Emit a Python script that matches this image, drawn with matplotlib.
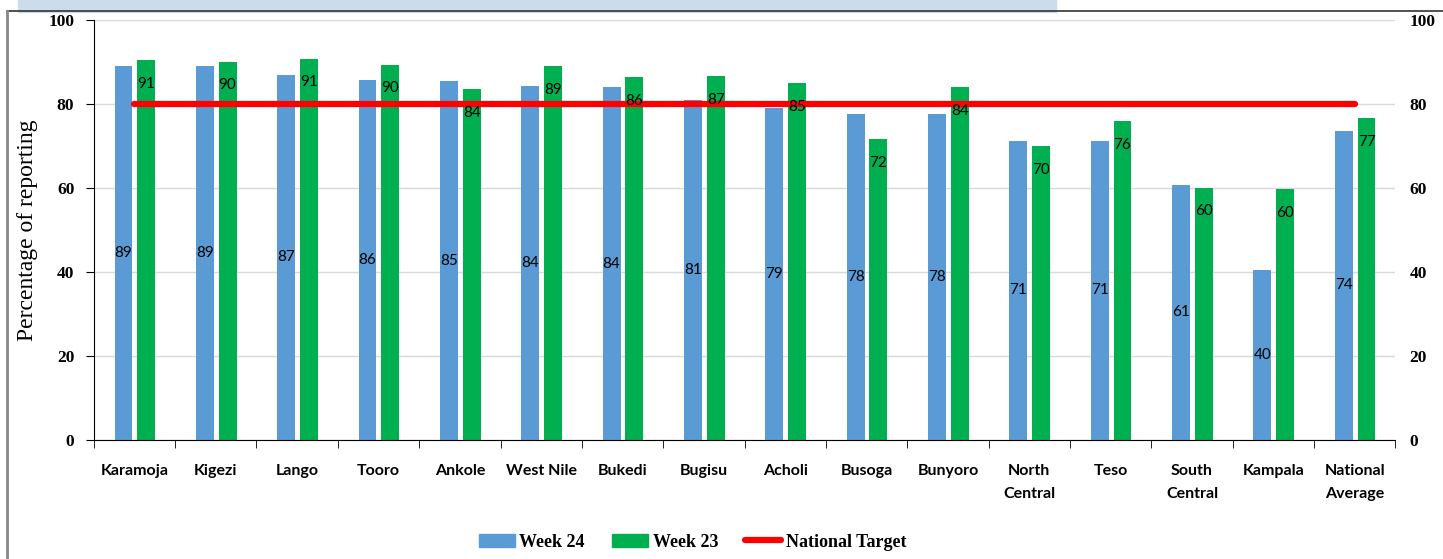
import matplotlib
matplotlib.use("Agg")
import matplotlib.pyplot as plt
import numpy as np
from matplotlib.patches import Rectangle
from matplotlib.lines import Line2D

regions = ["Karamoja", "Kigezi", "Lango", "Tooro", "Ankole", "West Nile", "Bukedi",
           "Bugisu", "Acholi", "Busoga", "Bunyoro", "North\nCentral", "Teso",
           "South\nCentral", "Kampala", "National\nAverage"]
week24 = [89, 89, 87, 86, 85, 84, 84, 81, 79, 78, 78, 71, 71, 61, 40, 74]
week23 = [91, 90, 91, 90, 84, 89, 86, 87, 85, 72, 84, 70, 76, 60, 60, 77]
week24_bar = [89.1, 89.0, 87.0, 85.8, 85.4, 84.4, 84.0, 81.0, 79.0, 77.7, 77.7, 71.2, 71.2, 60.8, 40.4, 73.6]
week23_bar = [90.5, 90.1, 90.8, 89.4, 83.6, 89.1, 86.4, 86.7, 85.0, 71.6, 84.0, 69.9, 76.0, 60.1, 59.7, 76.6]
target = 80

blue = "#5b9bd5"
green = "#00b050"
serif = ["Liberation Serif", "DejaVu Serif"]
sans = ["Lato", "DejaVu Sans"]

fig = plt.figure(figsize=(14.43, 5.59), dpi=100)
ax = fig.add_axes([0.065, 0.213, 0.902, 0.751])

x = np.arange(len(regions))
w = 0.22
ax.bar(x - 0.135, week24_bar, w, color=blue, zorder=2)
ax.bar(x + 0.145, week23_bar, w, color=green, zorder=2)
ax.plot(x, [target] * len(x), color="#ff0000", lw=4.5, solid_capstyle="round", zorder=3)

for i in range(len(x)):
    ax.text(x[i] - 0.135, week24_bar[i] / 2, str(week24[i]), ha="center", va="center",
            fontsize=11, family=sans, zorder=4)
    ax.annotate(str(week23[i]), (x[i] + 0.145, week23_bar[i]), xytext=(0, -12),
                textcoords="offset points", ha="center", va="top",
                fontsize=11, family=sans, zorder=4)

ax.set_xlim(-0.5, len(x) - 0.5)
ax.set_ylim(0, 100)
ax.set_yticks(range(0, 101, 20))
ax.yaxis.grid(True, color="#d9d9d9", lw=1)
ax.set_axisbelow(True)
ax.set_xticks(x)
ax.set_xticklabels(regions, fontsize=11.5, fontweight="bold", family=sans, linespacing=1.9)
ax.set_xticks(np.arange(-0.5, len(x)), minor=True)
ax.tick_params(axis="x", which="major", length=0, pad=17)
ax.tick_params(axis="x", which="minor", length=6, direction="out")
ax.tick_params(axis="y", length=6, direction="out", pad=8)
for lab in ax.get_yticklabels():
    lab.set_fontfamily(serif)
    lab.set_fontweight("bold")
    lab.set_fontsize(12.5)
ax.set_ylabel("Percentage of reporting", fontsize=17, family=serif)
ax.yaxis.set_label_coords(-0.043, 0.5)
for s in ["top", "right"]:
    ax.spines[s].set_visible(False)
ax.spines["left"].set_color("black")
ax.spines["bottom"].set_color("black")

ax2 = ax.twinx()
ax2.set_ylim(0, 100)
ax2.set_yticks(range(0, 101, 20))
for s in ["top", "right", "left", "bottom"]:
    ax2.spines[s].set_visible(False)
ax2.tick_params(axis="y", length=0, pad=10)
for lab in ax2.get_yticklabels():
    lab.set_fontfamily(serif)
    lab.set_fontweight("bold")
    lab.set_fontsize(12.5)

handles = [Rectangle((0, 0), 1, 1, color=blue), Rectangle((0, 0), 1, 1, color=green),
           Line2D([0], [0], color="#ff0000", lw=4.5, solid_capstyle="round")]
fig.legend(handles, ["Week 24", "Week 23", "National Target"], loc="center",
           bbox_to_anchor=(0.48, 0.03), ncol=3, frameon=False, handlelength=2.0,
           handleheight=0.8, handletextpad=0.25, columnspacing=1.5,
           prop={"family": serif, "weight": "bold", "size": 13})

# frame and header strip
fig.patches.append(Rectangle((0.0125, 0.978), 0.719, 0.03, transform=fig.transFigure,
                             color="#cddcea", zorder=0))
fig.add_artist(Line2D([0.005, 1.0], [0.98, 0.98], color="#333333", lw=1.2, transform=fig.transFigure))
fig.add_artist(Line2D([0.005, 0.005], [0.0, 0.98], color="#888888", lw=2, transform=fig.transFigure))

plt.savefig("out.png", dpi=100)
plt.close()
